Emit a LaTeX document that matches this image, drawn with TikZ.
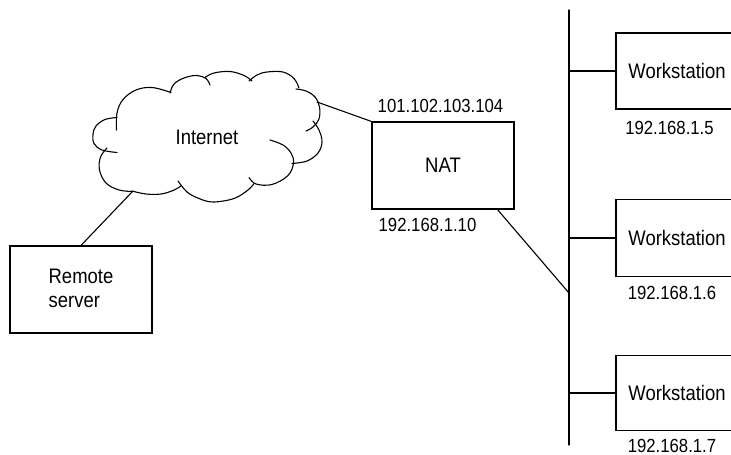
\documentclass[tikz,border=0pt]{standalone}
\usepackage{fontspec}
\setmainfont{Liberation Sans}[FakeStretch=0.88]
\begin{document}
\begin{tikzpicture}[x=1pt,y=-1pt,
  wire/.style={line width=1.1pt, line cap=round},
  puff/.style={line width=1.1pt, line cap=round, smooth, tension=0.6},
  box/.style={draw, line width=1.1pt, rectangle, inner sep=0pt},
  txt/.style={font=\fontsize{21}{24}\selectfont, inner sep=0pt},
  lbl/.style={font=\fontsize{19}{22}\selectfont, inner sep=0pt}]
\useasboundingbox (0,0) rectangle (731,455);
\clip (0,0) rectangle (731,455);

% cloud
\draw[puff] plot coordinates {(116.5,130) (117,113) (123,99.5) (136,90) (152,87.5) (171,92.5)};
\draw[puff] plot coordinates {(170,93) (174,84) (184,78) (196,75.5) (206,78.5) (210,85)};
\draw[puff] plot coordinates {(205,77.5) (214,73) (230,71.5) (244,75.5) (252,81)};
\draw[puff] plot coordinates {(249,81) (257,75) (267,72) (283,72) (294,78.5) (299,88)};
\draw[puff] plot coordinates {(296,89) (306,91) (315,97) (319.5,107) (319,119) (313,127) (306,131)};
\draw[puff] plot coordinates {(313,121) (319,130) (322,142) (318,153) (307,161) (292,163.5)};
\draw[puff] plot coordinates {(270,140) (283,145) (291,153) (293.5,163) (288,175.5) (272,184.5) (256,184) (249,177.5)};
\draw[puff] plot coordinates {(254,183.5) (248,190) (234,198.5) (213,202) (199,198.5) (187,192) (178,181)};
\draw[puff] plot coordinates {(132,191) (146,194) (161,194) (173,190.5) (181,186)};
\draw[puff] plot coordinates {(107,148) (100.5,157) (99.5,170) (106,183) (119,190) (133,191.5)};
\draw[puff] plot coordinates {(117,117.5) (105,119.5) (96,126) (93,134) (94,143.5) (102,150) (117,152.5)};
\node[txt] (internet) at (207,137) {Internet};
\coordinate (cloudNE) at (317,102);
\coordinate (cloudSW) at (132,192);

% remote server
\node[box, minimum width=142pt, minimum height=87pt] (srv) at (81,289.5) {};
\node[txt, align=left] (srvt) at (81,288) {Remote\\server};

% NAT
\node[box, minimum width=142pt, minimum height=87pt] (nat) at (443,165.5) {};
\node[txt] (natt) at (443,165) {NAT};
\node[lbl] (natpub) at (440.5,106) {101.102.103.104};
\node[lbl] (natpriv) at (427.5,225) {192.168.1.10};
\coordinate (natb) at (497,209);

% bus
\coordinate (bustop) at (569,10);
\coordinate (busbot) at (569,445);
\coordinate (busj) at (569,293);
\draw[wire] (bustop) -- (busbot);

% workstations
\node[box, minimum width=184pt, minimum height=76pt] (ws1) at (708,71) {};
\node[box, minimum width=184pt, minimum height=77pt] (ws2) at (708,238) {};
\node[box, minimum width=184pt, minimum height=75pt] (ws3) at (708,393) {};
\node[txt] (ws1t) at (677,71) {Workstation};
\node[txt] (ws2t) at (677,238) {Workstation};
\node[txt] (ws3t) at (677,393) {Workstation};
\node[lbl] (ws1l) at (669.5,128) {192.168.1.5};
\node[lbl] (ws2l) at (672,292.5) {192.168.1.6};
\node[lbl] (ws3l) at (672,445.5) {192.168.1.7};
\coordinate (b1) at (569,71);
\coordinate (b2) at (569,238);
\coordinate (b3) at (569,393);
\draw[wire] (b1) -- (ws1.west);
\draw[wire] (b2) -- (ws2.west);
\draw[wire] (b3) -- (ws3.west);

% connectors
\draw[wire] (cloudSW) -- (srv.north);
\draw[wire] (cloudNE) -- (nat.north west);
\draw[wire] (natb) -- (busj);
\end{tikzpicture}
\end{document}
